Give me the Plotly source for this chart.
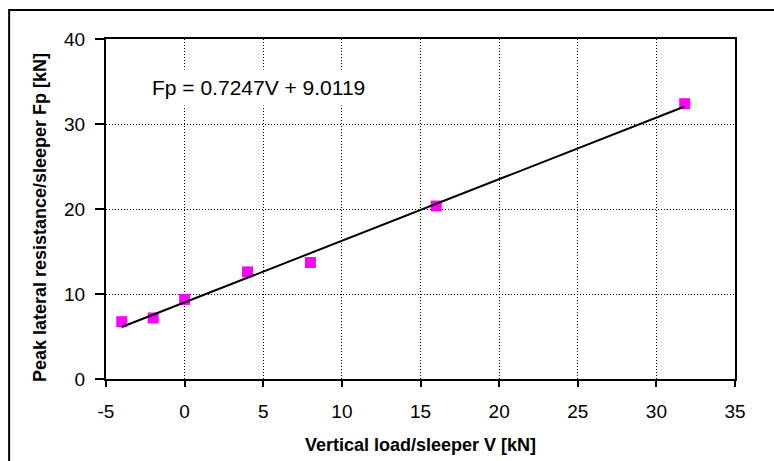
import plotly.graph_objects as go

# Data
vertical_load = [-4, -2, 0, 4, 8, 16, 31.8]
peak_resistance = [6.74, 7.18, 9.37, 12.6, 13.7, 20.35, 32.39]
slope = 0.7247
intercept = 9.0119
x_ticks = [-5, 0, 5, 10, 15, 20, 25, 30, 35]
x_tick_labels = ["-5", "0", "5", "10", "15", "20", "25", "30", "35"]
y_ticks = [0, 10, 20, 30, 40]
y_tick_labels = ["0", "10", "20", "30", "40"]
x_title = "Vertical load/sleeper V [kN]"
y_title = "Peak lateral resistance/sleeper Fp [kN]"

x_line = [min(vertical_load), max(vertical_load)]
y_line = [slope * v + intercept for v in x_line]

font_family = "Arial, Liberation Sans, Helvetica, sans-serif"

fig = go.Figure()
fig.add_trace(go.Scatter(
    x=vertical_load, y=peak_resistance, mode="markers",
    marker=dict(symbol="square", size=11, color="#FF00FF", line=dict(width=0)),
    showlegend=False,
))
fig.add_trace(go.Scatter(
    x=x_line, y=y_line, mode="lines",
    line=dict(color="black", width=2),
    showlegend=False,
))

fig.add_annotation(
    x=4.67, y=34.35, xref="x", yref="y",
    text=f"Fp = {slope}V + {intercept}",
    showarrow=False, xanchor="center", yanchor="middle",
    font=dict(family=font_family, size=21, color="black"),
    bgcolor="white", borderpad=6,
)

# Axis titles placed as annotations for precise positioning
fig.add_annotation(
    x=0.5, y=-0.195, xref="paper", yref="paper",
    text=f"<b>{x_title}</b>", showarrow=False,
    xanchor="center", yanchor="middle",
    font=dict(family=font_family, size=18, color="black"),
)
fig.add_annotation(
    x=-0.105, y=0.476, xref="paper", yref="paper",
    text=f"<b>{y_title}</b>", showarrow=False, textangle=-90,
    xanchor="center", yanchor="middle",
    font=dict(family=font_family, size=18, color="black"),
)

# Outer chart border (extends beyond the visible crop on right/bottom)
fig.add_shape(
    type="rect", xref="paper", yref="paper",
    x0=-0.154, x1=1.5, y0=-1.0, y1=1.085,
    line=dict(color="black", width=2), fillcolor="rgba(0,0,0,0)",
    layer="below",
)

axis_common = dict(
    showline=True, linecolor="black", linewidth=2, mirror=True,
    showgrid=True, gridcolor="black", gridwidth=1, griddash="1px,2px",
    zeroline=False, ticks="outside", tickcolor="black", tickwidth=2,
    tickfont=dict(family=font_family, size=19, color="black"),
)

fig.update_xaxes(
    range=[-5, 35], tickmode="array", tickvals=x_ticks, ticktext=x_tick_labels,
    ticklen=6, ticklabelstandoff=8,
    **axis_common,
)
fig.update_yaxes(
    range=[0, 40], tickmode="array", tickvals=y_ticks, ticktext=y_tick_labels,
    ticklen=9, ticklabelstandoff=6,
    **axis_common,
)

fig.update_layout(
    width=774, height=461,
    margin=dict(l=106, r=39, t=39, b=82, autoexpand=False),
    paper_bgcolor="white", plot_bgcolor="white",
    font=dict(family=font_family, color="black"),
)

fig.write_html("out.html")
